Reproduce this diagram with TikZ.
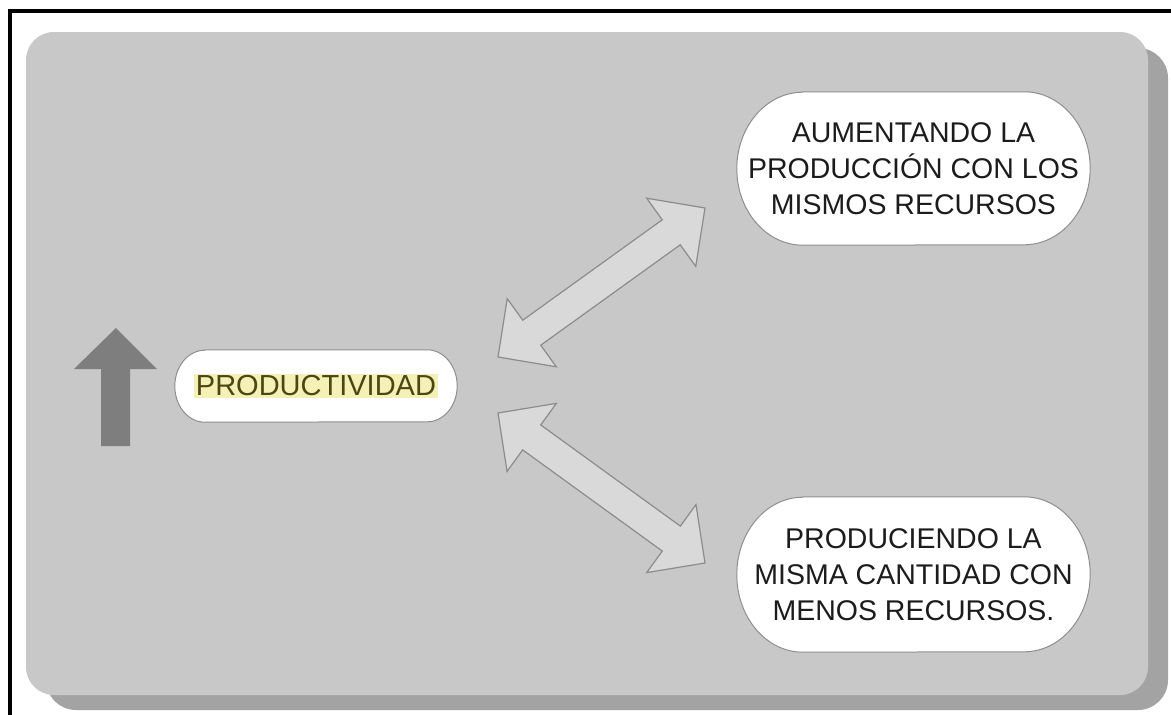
\documentclass[tikz,border=0pt]{standalone}
\usepackage{fontspec}
\setmainfont{Liberation Sans}
\usetikzlibrary{calc,backgrounds}

\definecolor{panelgrey}{HTML}{C8C8C8}
\definecolor{shadowgrey}{HTML}{A3A3A3}
\definecolor{arrowfill}{HTML}{D9D9D9}
\definecolor{arrowline}{HTML}{8C8C8C}
\definecolor{uparrowgrey}{HTML}{7E7E7E}
\definecolor{bubbleline}{HTML}{8E8E8E}
\definecolor{prodtext}{HTML}{4A4712}
\definecolor{prodhi}{HTML}{F5F1B6}
\definecolor{bodytext}{HTML}{1C1C1C}

% block double arrow dimensions
\newcommand\headlen{41.6pt}
\newcommand\headw{42pt}
\newcommand\shaftw{15.4pt}

% outline of a pill-shaped bubble around a node: name, x radius, y radius
\newcommand\bubbleoutline[3]{%
  \draw[bubble] ($(#1.north west)+(#2,0)$) -- ($(#1.north east)+(-#2,0)$)
    arc[start angle=-90,end angle=90,x radius=#2,y radius=#3]
    -- ($(#1.south west)+(#2,0)$)
    arc[start angle=90,end angle=270,x radius=#2,y radius=#3] -- cycle;}

% wide double-headed block arrow between two named coordinates
\newcommand\blockarrow[2]{%
  \coordinate (#1-#2-a) at ($(#1)!\headlen!(#2)$);
  \coordinate (#1-#2-b) at ($(#2)!\headlen!(#1)$);
  \draw[blockarrowstyle] (#1)
    -- ($(#1-#2-a)!\headw!90:(#2)$)
    -- ($(#1-#2-a)!\shaftw!90:(#2)$)
    -- ($(#1-#2-b)!\shaftw!-90:(#1)$)
    -- ($(#1-#2-b)!\headw!-90:(#1)$)
    -- (#2)
    -- ($(#1-#2-b)!\headw!90:(#1)$)
    -- ($(#1-#2-b)!\shaftw!90:(#1)$)
    -- ($(#1-#2-a)!\shaftw!-90:(#2)$)
    -- ($(#1-#2-a)!\headw!-90:(#2)$)
    -- cycle;}

\tikzset{
  bubble/.style={fill=white, draw=bubbleline, line width=1pt},
  textbox/.style={inner sep=0pt, align=center, text=bodytext,
    font=\fontsize{28.5}{36}\selectfont},
  blockarrowstyle/.style={fill=arrowfill, draw=arrowline, line width=1.2pt,
    line join=miter},
}

\begin{document}
\begin{tikzpicture}[x=1pt,y=-1pt]
  \useasboundingbox (0,0) rectangle (1171,715);

  % page, grey panel and its drop shadow
  \begin{pgfonlayer}{background}
    \fill[white] (0,0) rectangle (1171,715);
    \fill[shadowgrey, rounded corners=30pt] (46,48) rectangle (1168,710);
    \fill[panelgrey, rounded corners=28pt] (26,32) rectangle (1148,695);
  \end{pgfonlayer}

  % outer frame (left and top edges)
  \draw[line width=4pt, line cap=rect] (10,715) -- (10,11) -- (1171,11);

  % upward arrow
  \fill[uparrowgrey] (116,328) -- (157,369) -- (130,369) -- (130,446)
    -- (101,446) -- (101,369) -- (74,369) -- cycle;

  % nodes
  \node[inner sep=0pt, minimum width=282, minimum height=72, text=prodtext,
        font=\fontsize{29}{36}\selectfont] (prod) at (316,386)
    {\setlength\fboxsep{1.5pt}\colorbox{prodhi}{PRODUCTIVIDAD}};
  \node[textbox, minimum width=353, minimum height=153] (aum) at (913.5,168.5)
    {AUMENTANDO LA\\PRODUCCIÓN CON LOS\\MISMOS RECURSOS};
  \node[textbox, minimum width=353, minimum height=155] (red) at (913.5,574.5)
    {PRODUCIENDO LA\\MISMA CANTIDAD CON\\MENOS RECURSOS.};

  \begin{pgfonlayer}{background}
    \bubbleoutline{prod}{30}{36}
    \bubbleoutline{aum}{66}{76.5}
    \bubbleoutline{red}{66}{77.5}
  \end{pgfonlayer}

  % double arrows linking the central idea to both ways of raising it
  \coordinate (up-s) at (498,357);
  \coordinate (up-e) at (705,208);
  \coordinate (dn-s) at (498,413);
  \coordinate (dn-e) at (705,563);
  \blockarrow{up-s}{up-e}
  \blockarrow{dn-s}{dn-e}
\end{tikzpicture}
\end{document}
